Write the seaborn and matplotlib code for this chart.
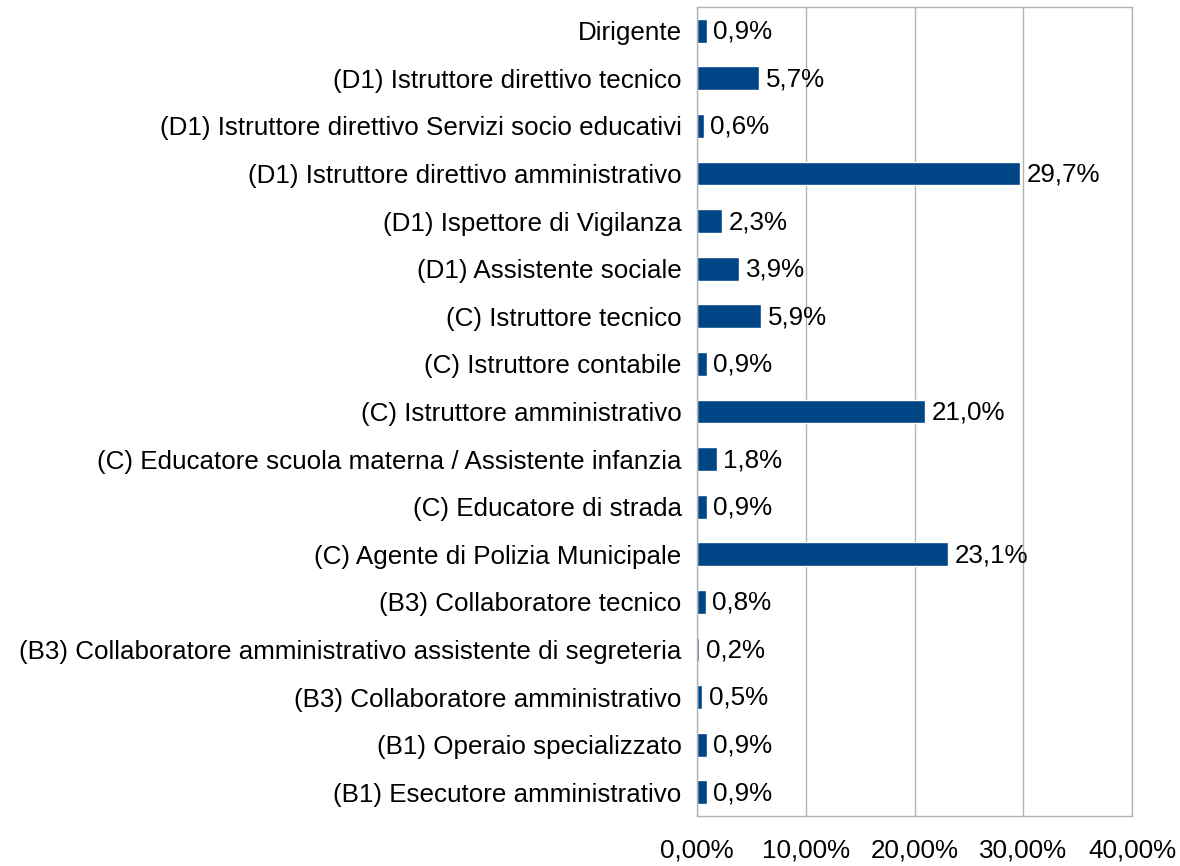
import matplotlib.pyplot as plt
import numpy as np
import pandas as pd
import seaborn as sns

sns.set_style('white')
plt.rcParams['font.family'] = ['Liberation Sans', 'DejaVu Sans']
plt.rcParams['text.color'] = 'black'
plt.rcParams['xtick.color'] = 'black'
plt.rcParams['ytick.color'] = 'black'

categories = ['Dirigente',
              '(D1) Istruttore direttivo tecnico',
              '(D1) Istruttore direttivo Servizi socio educativi',
              '(D1) Istruttore direttivo amministrativo',
              '(D1) Ispettore di Vigilanza',
              '(D1) Assistente sociale',
              '(C) Istruttore tecnico',
              '(C) Istruttore contabile',
              '(C) Istruttore amministrativo',
              '(C) Educatore scuola materna / Assistente infanzia',
              '(C) Educatore di strada',
              '(C) Agente di Polizia Municipale',
              '(B3) Collaboratore tecnico',
              '(B3) Collaboratore amministrativo assistente di segreteria',
              '(B3) Collaboratore amministrativo',
              '(B1) Operaio specializzato',
              '(B1) Esecutore amministrativo']
values = [0.9, 5.7, 0.6, 29.7, 2.3, 3.9, 5.9, 0.9, 21.0, 1.8, 0.9, 23.1, 0.8, 0.2, 0.5, 0.9, 0.9]
xticks = [0, 10, 20, 30, 40]

df = pd.DataFrame({'cat': categories, 'val': values})
fs = 18.7

fig = plt.figure(figsize=(11.8, 8.66), dpi=100)
ax = fig.add_axes([697/1180, 50/866, (1132-697)/1180, (816-7)/866])
sns.barplot(data=df, y='cat', x='val', orient='h', color='#004586',
            width=0.5, saturation=1, ax=ax)

ax.set_xlim(0, 40)
ax.set_ylim(len(categories) - 0.5, -0.5)
ax.set_xticks(xticks)
ax.set_xticklabels([f'{t:.2f}%'.replace('.', ',') for t in xticks], fontsize=fs)
ax.xaxis.grid(True, color='#b3b3b3', lw=1)
ax.set_axisbelow(True)
ax.tick_params(axis='x', length=10, color='#b3b3b3', labelcolor='black', pad=6, width=1)

ax.set_yticks(np.arange(len(categories)))
ax.set_yticklabels(categories, fontsize=fs)
ax.set_yticks(np.arange(len(categories) + 1) - 0.5, minor=True)
ax.tick_params(axis='y', which='major', length=0, pad=11, labelcolor='black')
ax.tick_params(axis='y', which='minor', length=10, color='#b3b3b3', width=1)
ax.set_xlabel('')
ax.set_ylabel('')

for s in ax.spines.values():
    s.set_color('#b3b3b3')
    s.set_linewidth(1)

for i, v in enumerate(values):
    ax.text(v + 0.6, i + 0.02, f'{v:.1f}%'.replace('.', ','), va='center', ha='left',
            fontsize=fs, color='black')

fig.savefig('out.png', dpi=100)
